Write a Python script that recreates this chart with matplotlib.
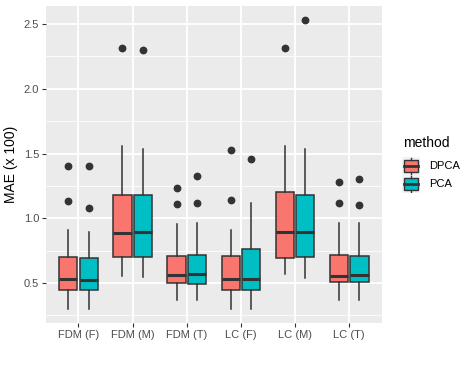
import matplotlib
matplotlib.use("Agg")
import matplotlib.pyplot as plt
import numpy as np

plt.rcParams["font.family"] = ["Liberation Sans", "DejaVu Sans"]

categories = ["FDM (F)", "FDM (M)", "FDM (T)", "LC (F)", "LC (M)", "LC (T)"]
methods = ["DPCA", "PCA"]
colors = ["#F8766D", "#00BFC4"]

dpca_q1 = [0.446, 0.703, 0.500, 0.448, 0.693, 0.508]
dpca_med = [0.531, 0.886, 0.559, 0.533, 0.894, 0.556]
dpca_q3 = [0.701, 1.176, 0.708, 0.706, 1.203, 0.713]
dpca_lo = [0.300, 0.556, 0.366, 0.300, 0.572, 0.366]
dpca_hi = [0.912, 1.555, 0.955, 0.912, 1.555, 0.960]
dpca_out = [[1.135, 1.40], [2.315], [1.112, 1.234], [1.138, 1.524], [2.315], [1.115, 1.28]]

pca_q1 = [0.448, 0.703, 0.492, 0.448, 0.698, 0.508]
pca_med = [0.520, 0.894, 0.566, 0.533, 0.896, 0.564]
pca_q3 = [0.693, 1.180, 0.713, 0.763, 1.180, 0.711]
pca_lo = [0.300, 0.543, 0.366, 0.300, 0.538, 0.366]
pca_hi = [0.894, 1.537, 0.963, 1.115, 1.537, 0.960]
pca_out = [[1.076, 1.40], [2.296], [1.12, 1.33], [1.46], [2.528], [1.099, 1.305]]

series = [
    (dpca_q1, dpca_med, dpca_q3, dpca_lo, dpca_hi, dpca_out),
    (pca_q1, pca_med, pca_q3, pca_lo, pca_hi, pca_out),
]

W, H = 474, 365
fig = plt.figure(figsize=(W / 100, H / 100), dpi=100)
ax = fig.add_axes([46 / W, 1 - 323.3 / H, (381.7 - 46) / W, (323.3 - 6) / H])
ax.set_facecolor("#EBEBEB")

dark = "#333333"
offsets = [-0.1875, 0.1875]
bw = 0.3375
all_vals = []
for m, (q1, med, q3, lo, hi, out) in enumerate(series):
    stats = []
    for i in range(len(categories)):
        stats.append(dict(q1=q1[i], med=med[i], q3=q3[i], whislo=lo[i], whishi=hi[i], fliers=out[i]))
        all_vals += [lo[i], hi[i]] + list(out[i])
    pos = [i + 1 + offsets[m] for i in range(len(categories))]
    ax.bxp(stats, positions=pos, widths=bw, patch_artist=True, showcaps=False,
           boxprops=dict(facecolor=colors[m], edgecolor=dark, linewidth=1.1),
           medianprops=dict(color=dark, linewidth=2.2),
           whiskerprops=dict(color=dark, linewidth=1.1),
           flierprops=dict(marker="o", markerfacecolor=dark, markeredgecolor=dark, markersize=4.6),
           manage_ticks=False, zorder=3)

lo_v, hi_v = min(all_vals), max(all_vals)
pad = 0.05 * (hi_v - lo_v)
ax.set_ylim(lo_v - pad, hi_v + pad)
ax.set_xlim(0.4, len(categories) + 0.6)

ax.set_xticks(range(1, len(categories) + 1))
ax.set_xticklabels(categories)
ax.set_yticks([0.5, 1.0, 1.5, 2.0, 2.5])
ax.set_yticklabels(["0.5", "1.0", "1.5", "2.0", "2.5"])
ax.set_yticks([0.25, 0.75, 1.25, 1.75, 2.25], minor=True)
ax.grid(True, which="major", color="white", linewidth=1.3, zorder=0)
ax.grid(True, which="minor", axis="y", color="white", linewidth=0.6, zorder=0)
ax.set_axisbelow(True)
for s in ax.spines.values():
    s.set_visible(False)
ax.tick_params(axis="both", which="major", length=3, width=0.8, color=dark,
               labelsize=8, labelcolor="#4D4D4D", pad=2)
ax.tick_params(axis="y", which="minor", length=0)
ax.set_ylabel("MAE (x 100)", fontsize=10, color="black", labelpad=4)

# legend
fig.text(403 / W, 1 - 143 / H, "method", fontsize=10, va="center", ha="left")
lax = fig.add_axes([402 / W, 1 - 193 / H, 18 / W, 36 / H])
lax.set_xlim(0, 1)
lax.set_ylim(0, 2)
lax.axis("off")
for k, (name, col) in enumerate(zip(methods, colors)):
    yc = 1.5 - k
    lax.add_patch(plt.Rectangle((0, yc - 0.5), 1, 1, facecolor="#F2F2F2", edgecolor="none"))
    lax.plot([0.5, 0.5], [yc - 0.45, yc - 0.33], color=dark, lw=1.0)
    lax.plot([0.5, 0.5], [yc + 0.33, yc + 0.45], color=dark, lw=1.0)
    lax.add_patch(plt.Rectangle((0.1, yc - 0.33), 0.8, 0.66, facecolor=col, edgecolor=dark, lw=1.0))
    lax.plot([0.1, 0.9], [yc, yc], color=dark, lw=2.0)
    fig.text(429 / W, 1 - (166 + 18 * k) / H, name, fontsize=8, va="center", ha="left")

fig.savefig("out.png", dpi=100)
